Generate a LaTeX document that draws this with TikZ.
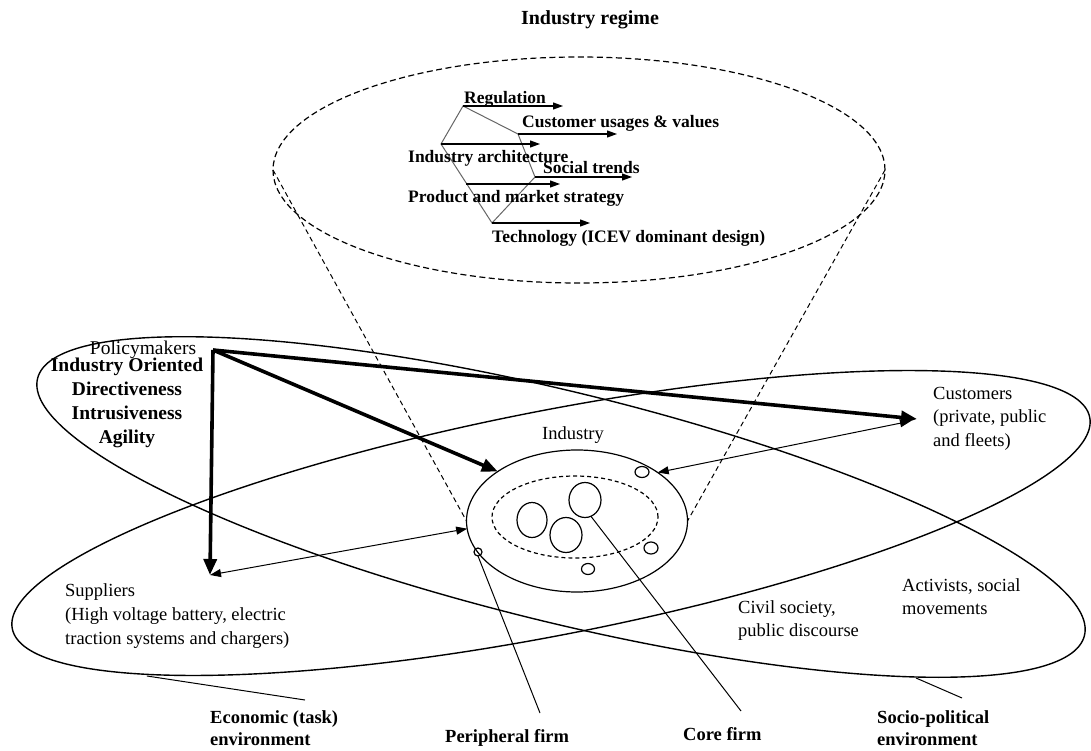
\documentclass[tikz,border=0pt]{standalone}
\usepackage{fontspec}
\setmainfont{Liberation Serif}
\usetikzlibrary{shapes.geometric, arrows.meta}

\begin{document}
\begin{tikzpicture}[x=1pt, y=-1pt,
    envring/.style={draw, ellipse, line width=1.4pt, inner sep=0pt, outer sep=0pt},
    firmring/.style={draw, ellipse, line width=1.2pt, inner sep=0pt, outer sep=0pt},
    conedash/.style={line width=1pt, dash pattern=on 5pt off 3.5pt},
    policyarrow/.style={line width=3.6pt, -{Triangle[length=16pt, width=13pt]}},
    linkarrow/.style={line width=1pt, {Triangle[length=11pt, width=8pt]}-{Triangle[length=11pt, width=8pt]}},
    forcearrow/.style={line width=1.1pt, -{Triangle[length=10pt, width=7pt]}},
    bone/.style={line width=1pt, black!60},
    plain/.style={inner sep=0pt, align=left, anchor=base west, font=\fontsize{18.5}{23.5}\selectfont},
    heading/.style={inner sep=0pt, align=left, anchor=base west, font=\fontsize{18.5}{22}\selectfont\bfseries},
    force/.style={inner sep=0pt, anchor=base west, font=\fontsize{17.5}{20}\selectfont\bfseries}
]
\useasboundingbox (0,0) rectangle (1091,751);

% Industry regime
\node[anchor=base, inner sep=0pt, font=\fontsize{20}{24}\selectfont\bfseries] (title) at (590,25) {Industry regime};
\node[draw, ellipse, line width=1.2pt, dash pattern=on 6pt off 3.5pt, minimum width=612pt, minimum height=226pt, inner sep=0pt, outer sep=0pt] (regime) at (579,170) {};

% Regime dimensions
\coordinate (ftop) at (463,106);
\coordinate (fcus) at (518,134);
\coordinate (flft) at (441,144);
\coordinate (fsoc) at (535,177);
\coordinate (fbot) at (492,223);
\coordinate (fprd) at (466,184);
\draw[bone] (ftop) -- (fcus) -- (fsoc) -- (fbot) -- (flft) -- cycle;
\coordinate (treg) at (563,106);
\coordinate (tcus) at (617,134);
\coordinate (tarc) at (540,144);
\coordinate (tsoc) at (632,177);
\coordinate (tprd) at (560,184);
\coordinate (ttec) at (590,223);
\draw[forcearrow] (ftop) -- (treg);
\draw[forcearrow] (fcus) -- (tcus);
\draw[forcearrow] (flft) -- (tarc);
\draw[forcearrow] (fsoc) -- (tsoc);
\draw[forcearrow] (fprd) -- (tprd);
\draw[forcearrow] (fbot) -- (ttec);
\node[force] (reg) at (464,104) {Regulation};
\node[force] (cus) at (522,128) {Customer usages \& values};
\node[force] (arc) at (408,163) {Industry architecture};
\node[force] (soc) at (543,174) {Social trends};
\node[force] (prd) at (408,203) {Product and market strategy};
\node[force] (tec) at (492,243) {Technology (ICEV dominant design)};

% Environments
\node[envring, rotate=11.1, minimum width=1098pt, minimum height=224pt] (econ) at (551,523) {};
\node[envring, rotate=-13.8, minimum width=1078pt, minimum height=230pt] (socio) at (561,507) {};

% Industry with core and peripheral firms
\node[firmring, minimum width=221pt, minimum height=142pt] (ind) at (577,521) {};
\node[draw, ellipse, line width=1.2pt, dash pattern=on 4pt off 3pt, minimum width=166pt, minimum height=82pt, inner sep=0pt] (core) at (575,517) {};
\node[firmring, minimum width=30pt, minimum height=35pt] (c1) at (532,520) {};
\node[firmring, minimum width=32pt, minimum height=35pt] (c2) at (566,535) {};
\node[firmring, minimum width=32pt, minimum height=35pt] (c3) at (585,500) {};
\node[firmring, minimum width=14pt, minimum height=11pt] (s1) at (642,472) {};
\node[firmring, minimum width=14pt, minimum height=12pt] (s2) at (651,548) {};
\node[firmring, minimum width=13pt, minimum height=11pt] (s3) at (588,569) {};
\node[firmring, minimum width=8pt, minimum height=8pt] (pf) at (478,552) {};
\node[plain, anchor=base] (indlbl) at (573,439) {Industry};

% Cone from regime to industry
\draw[conedash] (regime.west) -- (ind.west);
\draw[conedash] (regime.east) -- (ind.east);

% Actors
\node[plain, font=\fontsize{19.5}{23.5}\selectfont, anchor=base] (pmlbl) at (143,354) {Policymakers};
\node[inner sep=0pt, align=center, anchor=base, font=\fontsize{19.5}{23.7}\selectfont\bfseries] (pmdims) at (127,443) {Industry Oriented\\Directiveness\\Intrusiveness\\Agility};
\node[plain] (cuslbl) at (933,446) {Customers\\(private, public\\and fleets)};
\node[plain, font=\fontsize{18.5}{24}\selectfont] (suplbl) at (65,644) {Suppliers\\(High voltage battery, electric\\traction systems and chargers)};
\node[plain, font=\fontsize{18.5}{23}\selectfont] (civlbl) at (738,636) {Civil society,\\public discourse};
\node[plain, font=\fontsize{18.5}{23}\selectfont] (actlbl) at (902,614) {Activists, social\\movements};

% Policy arrows
\coordinate (pm) at (213,350);
\coordinate (sup) at (210,575);
\coordinate (cust) at (917,419);
\draw[policyarrow] (pm) -- (sup);
\draw[policyarrow] (pm) -- (ind.148.8);
\draw[policyarrow] (pm) -- (cust);

% Exchange links
\draw[linkarrow] (sup) -- (ind.184);
\draw[linkarrow] (ind.31) -- (911,421);

% Bottom labels
\coordinate (ecoA) at (147,676);
\coordinate (ecoB) at (305,700);
\coordinate (socA) at (916,678);
\coordinate (socB) at (962,698);
\coordinate (pfB) at (540,713);
\coordinate (cfB) at (741,711);
\draw[line width=1pt] (ecoA) -- (ecoB);
\draw[line width=1pt] (socA) -- (socB);
\draw[line width=1pt] (pf.south) -- (pfB);
\draw[line width=1pt] (c3.-70) -- (cfB);
\node[heading] (ecolbl) at (210,745) {Economic (task)\\environment};
\node[heading] (pflbl) at (445,742) {Peripheral firm};
\node[heading] (cflbl) at (683,740) {Core firm};
\node[heading] (soclbl) at (877,745) {Socio-political\\environment};
\end{tikzpicture}
\end{document}
